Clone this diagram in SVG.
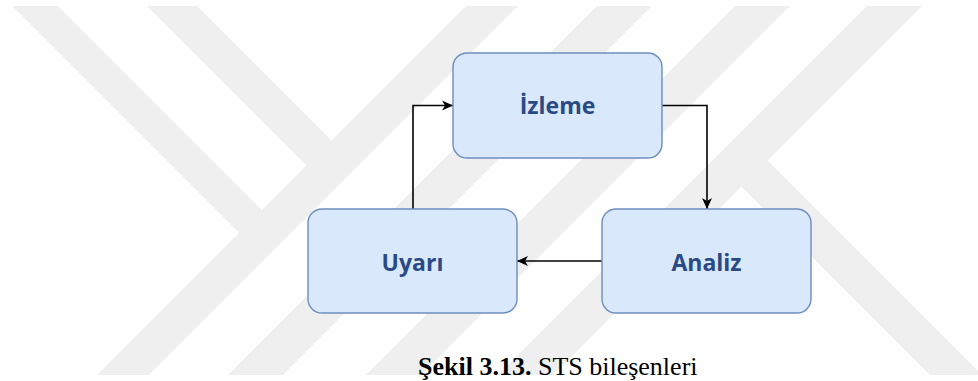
<svg xmlns="http://www.w3.org/2000/svg" width="978" height="381" viewBox="0 0 978 381">
  <defs>
    <style>
      .wm { fill: #efefef; }
      .box { fill: #dae8fc; stroke: #6c8ebf; stroke-width: 1.4; }
      .label { font-family: "Open Sans", "Liberation Sans", sans-serif; font-weight: 700; font-size: 23px; fill: #2a4a86; text-anchor: middle; }
      .edge { fill: none; stroke: #000000; stroke-width: 1.6; }
      .cap { font-family: "Liberation Serif", "Times New Roman", serif; font-size: 26px; fill: #000000; }
    </style>
    <marker id="arrow" markerUnits="userSpaceOnUse" markerWidth="12" markerHeight="12" refX="11" refY="6" orient="auto">
      <path d="M0,1 L11,6 L0,11 L3,6 Z" fill="#000000"/>
    </marker>
  </defs>

  <rect x="0" y="0" width="978" height="381" fill="#ffffff"/>

  <!-- background watermark: diagonal stripes -->
  <g id="watermark">
    <polygon class="wm" points="12,6 58,6 264,212 241,235"/>
    <polygon class="wm" points="147,6 197,6 334,143 309,168"/>
    <polygon class="wm" points="466,6 518,6 149,375 97,375"/>
    <polygon class="wm" points="597,6 652,6 283,375 228,375"/>
    <polygon class="wm" points="735,6 790,6 421,375 366,375"/>
    <polygon class="wm" points="867,6 922,6 553,375 498,375"/>
    <polygon class="wm" points="740,185 767,160 978,371 978,375 930,375"/>
  </g>

  <!-- connectors -->
  <g id="connectors">
    <path class="edge" d="M662,105.5 H707 V209" marker-end="url(#arrow)"/>
    <path class="edge" d="M602,261 H517" marker-end="url(#arrow)"/>
    <path class="edge" d="M413,209 V105.5 H453" marker-end="url(#arrow)"/>
  </g>

  <g id="izleme">
    <rect class="box" x="453" y="53" width="209" height="105" rx="14"/>
    <text class="label" x="557.5" y="114">İzleme</text>
  </g>

  <g id="analiz">
    <rect class="box" x="602" y="209" width="209" height="104" rx="14"/>
    <text class="label" x="706.5" y="270.5">Analiz</text>
  </g>

  <g id="uyari">
    <rect class="box" x="308" y="209" width="209" height="104" rx="14"/>
    <text class="label" x="412.5" y="270.5">Uyarı</text>
  </g>

  <g id="caption">
    <text class="cap" x="418" y="375"><tspan font-weight="700">Şekil 3.13.</tspan> STS bileşenleri</text>
  </g>
</svg>
